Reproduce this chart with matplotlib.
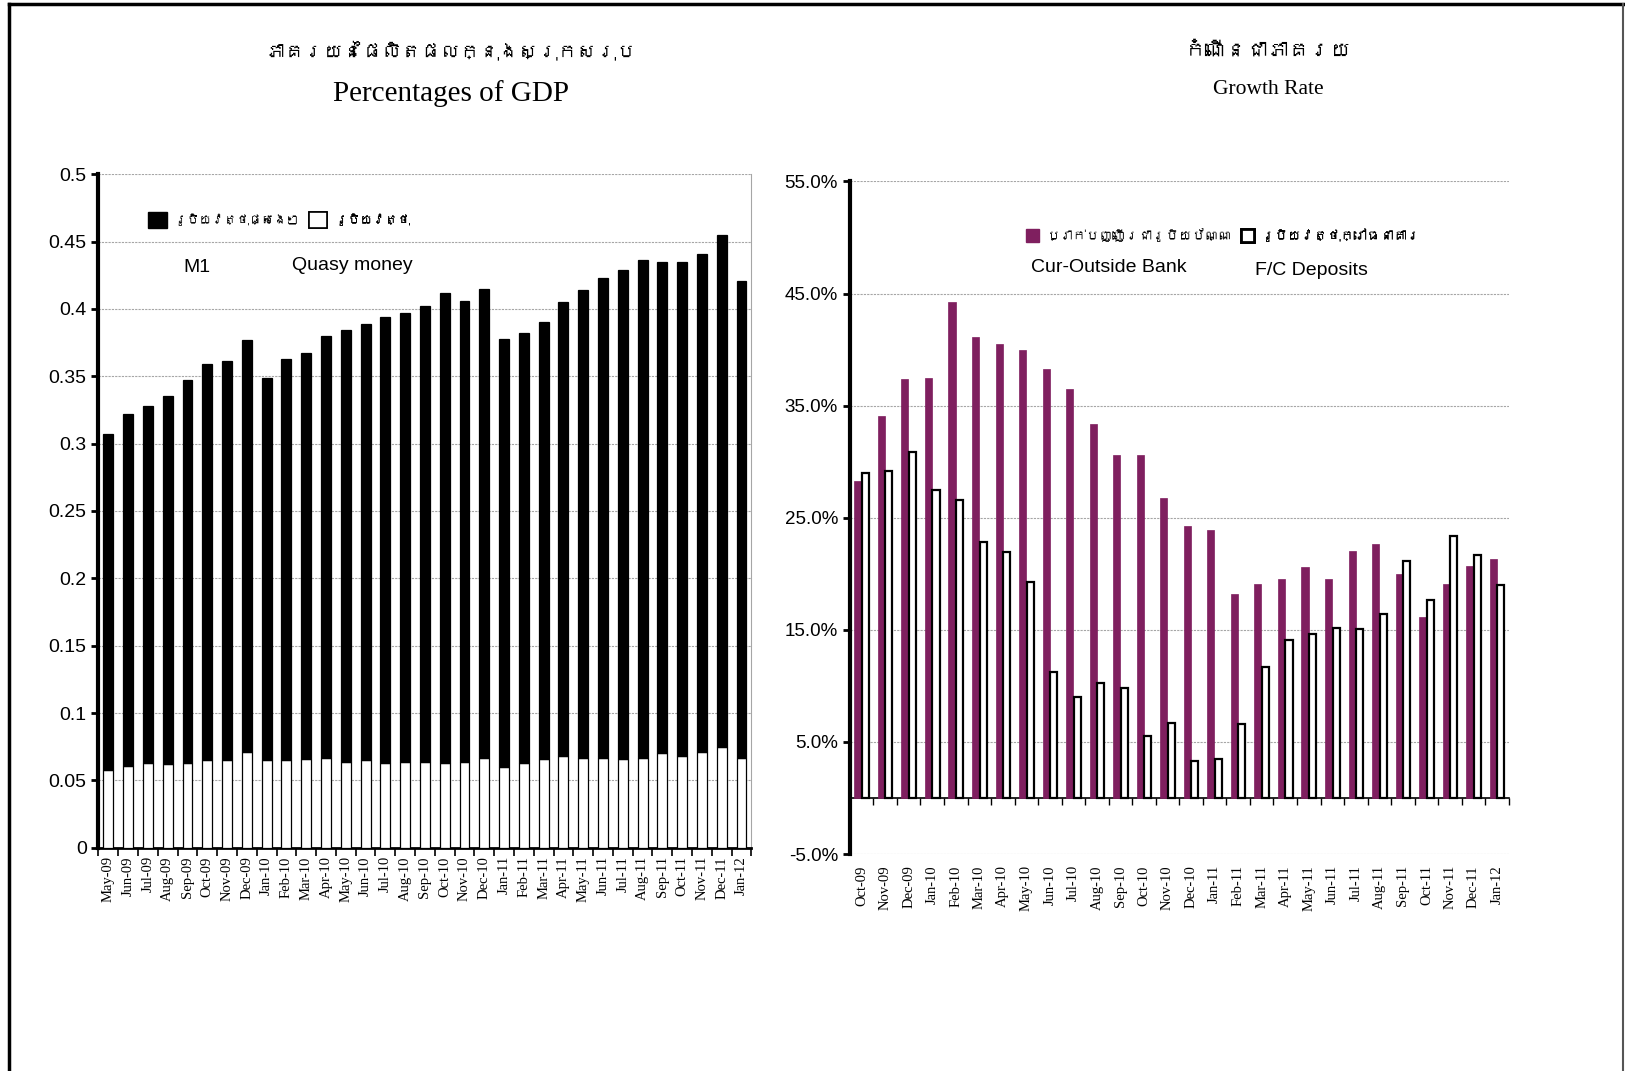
import numpy as np
import matplotlib
matplotlib.use("Agg")
import matplotlib.pyplot as plt
from matplotlib import font_manager as fm
from matplotlib.ft2font import FT2Font
from matplotlib.lines import Line2D
from matplotlib.patches import Patch
from matplotlib.ticker import FuncFormatter

# ---- data: left chart (share of GDP) ----
months_left = ["May-09", "Jun-09", "Jul-09", "Aug-09", "Sep-09", "Oct-09", "Nov-09", "Dec-09",
               "Jan-10", "Feb-10", "Mar-10", "Apr-10", "May-10", "Jun-10", "Jul-10", "Aug-10",
               "Sep-10", "Oct-10", "Nov-10", "Dec-10", "Jan-11", "Feb-11", "Mar-11", "Apr-11",
               "May-11", "Jun-11", "Jul-11", "Aug-11", "Sep-11", "Oct-11", "Nov-11", "Dec-11",
               "Jan-12"]
quasi_money = [0.058, 0.061, 0.063, 0.062, 0.063, 0.065, 0.065, 0.071, 0.065, 0.065, 0.066,
               0.067, 0.064, 0.065, 0.063, 0.064, 0.064, 0.063, 0.064, 0.067, 0.060, 0.063,
               0.066, 0.068, 0.067, 0.067, 0.066, 0.067, 0.070, 0.068, 0.071, 0.075, 0.067]
total_share = [0.307, 0.322, 0.328, 0.335, 0.347, 0.359, 0.361, 0.377, 0.349, 0.363, 0.367,
               0.380, 0.384, 0.389, 0.394, 0.397, 0.402, 0.412, 0.406, 0.415, 0.378, 0.382,
               0.390, 0.405, 0.414, 0.423, 0.429, 0.436, 0.435, 0.435, 0.441, 0.455, 0.421]
m1_share = [t - q for t, q in zip(total_share, quasi_money)]

# ---- data: right chart (growth rate, %) ----
months_right = ["Oct-09", "Nov-09", "Dec-09", "Jan-10", "Feb-10", "Mar-10", "Apr-10", "May-10",
                "Jun-10", "Jul-10", "Aug-10", "Sep-10", "Oct-10", "Nov-10", "Dec-10", "Jan-11",
                "Feb-11", "Mar-11", "Apr-11", "May-11", "Jun-11", "Jul-11", "Aug-11", "Sep-11",
                "Oct-11", "Nov-11", "Dec-11", "Jan-12"]
cur_outside = [28.3, 34.1, 37.4, 37.5, 44.2, 41.1, 40.5, 40.0, 38.3, 36.5, 33.4, 30.6, 30.6,
               26.8, 24.3, 23.9, 18.2, 19.1, 19.5, 20.6, 19.5, 22.0, 22.7, 20.0, 16.1, 19.1,
               20.7, 21.3]
fc_deposits = [29.0, 29.2, 30.9, 27.5, 26.6, 22.8, 21.9, 19.3, 11.2, 9.0, 10.3, 9.8, 5.5,
               6.7, 3.3, 3.5, 6.6, 11.7, 14.1, 14.6, 15.2, 15.1, 16.4, 21.1, 17.7, 23.4,
               21.7, 19.0]

title_left_kh = "ភាគរយនៃផលិតផលក្នុងស្រុកសរុប"
title_right_kh = "កំណើនជាភាគរយ"
leg_left_kh = ["រូបិយវត្ថុផ្សេងៗ", "រូបិយវត្ថុ"]
leg_right_kh = ["ប្រាក់បញ្ញើរជារូបិយប័ណ្ណ", "រូបិយវត្ថុក្រៅធនាគារ"]


def find_khmer_font():
    seen = set()
    for f in fm.fontManager.ttflist:
        if f.fname in seen:
            continue
        seen.add(f.fname)
        try:
            if 0x1780 in FT2Font(f.fname).get_charmap():
                return f.name
        except Exception:
            pass
    return None


kh = find_khmer_font()
kh_family = [kh, "DejaVu Sans"] if kh else ["Noto Sans", "DejaVu Sans"]
serif = "Liberation Serif"
sans = "Liberation Sans"
purple = "#7f1f5f"
grid_kw = dict(color="#a6a6a6", linewidth=0.8, linestyle=(0, (2, 1)))


def one_legend(ax, handle, label, x, y, size, box_w, box_h):
    leg = ax.legend([handle], [label], frameon=False, loc="center left",
                    bbox_to_anchor=(x, y), borderaxespad=0, borderpad=0,
                    handlelength=box_w, handleheight=box_h, handletextpad=0.6,
                    prop={"family": kh_family, "size": size})
    ax.add_artist(leg)
    return leg


fig = plt.figure(figsize=(16.25, 10.71), dpi=100)

# ---------------- left chart ----------------
ax1 = fig.add_axes([0.0606, 0.2084, 0.4018, 0.629])
x1 = np.arange(len(months_left))
ax1.bar(x1, quasi_money, width=0.5, color="white", edgecolor="black", linewidth=0.9, zorder=3)
ax1.bar(x1, m1_share, bottom=quasi_money, width=0.5, color="black", edgecolor="black",
        linewidth=0.9, zorder=3)
ax1.set_xlim(-0.5, len(months_left) - 0.5)
ax1.set_ylim(0, 0.5)
ax1.set_yticks(np.arange(0, 0.501, 0.05))
ax1.yaxis.set_major_formatter(FuncFormatter(lambda v, p: f"{v:.2f}".rstrip("0").rstrip(".")))
ax1.set_xticks(x1)
ax1.set_xticklabels(months_left, rotation=90, fontfamily=serif, fontsize=10.5)
ax1.set_xticks(np.arange(-0.5, len(months_left)), minor=True)
ax1.tick_params(axis="x", which="major", length=0, pad=6)
ax1.tick_params(axis="x", which="minor", length=6, width=1.2, direction="out")
ax1.tick_params(axis="y", length=5, width=2, direction="out", labelsize=14)
for lbl in ax1.get_yticklabels():
    lbl.set_fontfamily(sans)
ax1.grid(axis="y", **grid_kw)
ax1.set_axisbelow(True)
ax1.spines["top"].set_visible(False)
ax1.spines["right"].set_color("#a6a6a6")
ax1.spines["right"].set_linewidth(0.8)
ax1.spines["left"].set_linewidth(3)
ax1.spines["bottom"].set_linewidth(2)

one_legend(ax1, Patch(facecolor="black", edgecolor="black"), leg_left_kh[0],
           0.076, 0.932, 9, 1.5, 1.6)
one_legend(ax1, Patch(facecolor="white", edgecolor="black", linewidth=1.2), leg_left_kh[1],
           0.322, 0.932, 9, 1.5, 1.6)
ax1.text(0.151, 0.862, "M1", transform=ax1.transAxes, ha="center", va="center",
         fontfamily=sans, fontsize=14)
ax1.text(0.389, 0.865, "Quasy money", transform=ax1.transAxes, ha="center", va="center",
         fontfamily=sans, fontsize=14)

fig.text(0.2775, 0.953, title_left_kh, ha="center", va="center", family=kh_family,
         fontsize=14, fontweight="bold")
fig.text(0.2775, 0.9125, "Percentages of GDP", ha="center", va="center", fontfamily=serif,
         fontsize=21)

# ---------------- right chart ----------------
ax2 = fig.add_axes([0.523, 0.2026, 0.4055, 0.628])
x2 = np.arange(len(months_right))
ax2.bar(x2 - 0.16, cur_outside, width=0.3, color=purple, edgecolor=purple, linewidth=0.5, zorder=3)
ax2.bar(x2 + 0.16, fc_deposits, width=0.3, color="white", edgecolor="black", linewidth=1.6, zorder=3)
ax2.set_xlim(-0.5, len(months_right) - 0.5)
ax2.set_ylim(-5, 55)
ax2.set_yticks(np.arange(-5, 56, 10))
ax2.yaxis.set_major_formatter(FuncFormatter(lambda v, p: f"{v:.1f}%"))
ax2.tick_params(axis="y", length=5, width=2, direction="out", labelsize=13.5)
for lbl in ax2.get_yticklabels():
    lbl.set_fontfamily(sans)
ax2.grid(axis="y", **grid_kw)
ax2.set_axisbelow(True)
ax2.spines["top"].set_visible(False)
ax2.spines["right"].set_visible(False)
ax2.spines["left"].set_linewidth(3)
ax2.spines["bottom"].set_position(("data", 0))
ax2.spines["bottom"].set_linewidth(1.2)
ax2.set_xticks(np.arange(-0.5, len(months_right)), minor=True)
ax2.set_xticks([])
ax2.tick_params(axis="x", which="minor", length=5, width=1, direction="out")
sec = ax2.secondary_xaxis(0.0)
sec.set_xticks(x2)
sec.set_xticklabels(months_right, rotation=90, fontfamily=serif, fontsize=10.5)
sec.tick_params(axis="x", length=0, pad=8)
sec.spines["bottom"].set_visible(False)

one_legend(ax2, Patch(facecolor=purple, edgecolor=purple), leg_right_kh[0],
           0.267, 0.92, 9.5, 1.0, 1.1)
one_legend(ax2, Patch(facecolor="white", edgecolor="black", linewidth=2), leg_right_kh[1],
           0.593, 0.92, 9.5, 1.0, 1.1)
ax2.text(0.393, 0.872, "Cur-Outside Bank", transform=ax2.transAxes, ha="center", va="center",
         fontfamily=sans, fontsize=14)
ax2.text(0.701, 0.868, "F/C Deposits", transform=ax2.transAxes, ha="center", va="center",
         fontfamily=sans, fontsize=14)

fig.text(0.7805, 0.953, title_right_kh, ha="center", va="center", family=kh_family,
         fontsize=15, fontweight="bold")
fig.text(0.7805, 0.916, "Growth Rate", ha="center", va="center", fontfamily=serif, fontsize=15.5)

# frame around the page
fig.add_artist(Line2D([9 / 1625, 9 / 1625], [0, 1 - 4 / 1071], color="black", linewidth=2.5,
                      transform=fig.transFigure))
fig.add_artist(Line2D([9 / 1625, 1623 / 1625], [1 - 4 / 1071, 1 - 4 / 1071], color="black",
                      linewidth=2.5, transform=fig.transFigure))
fig.add_artist(Line2D([1623 / 1625, 1623 / 1625], [0, 1 - 4 / 1071], color="#555555",
                      linewidth=1.5, transform=fig.transFigure))

fig.savefig("out.png", dpi=100)
